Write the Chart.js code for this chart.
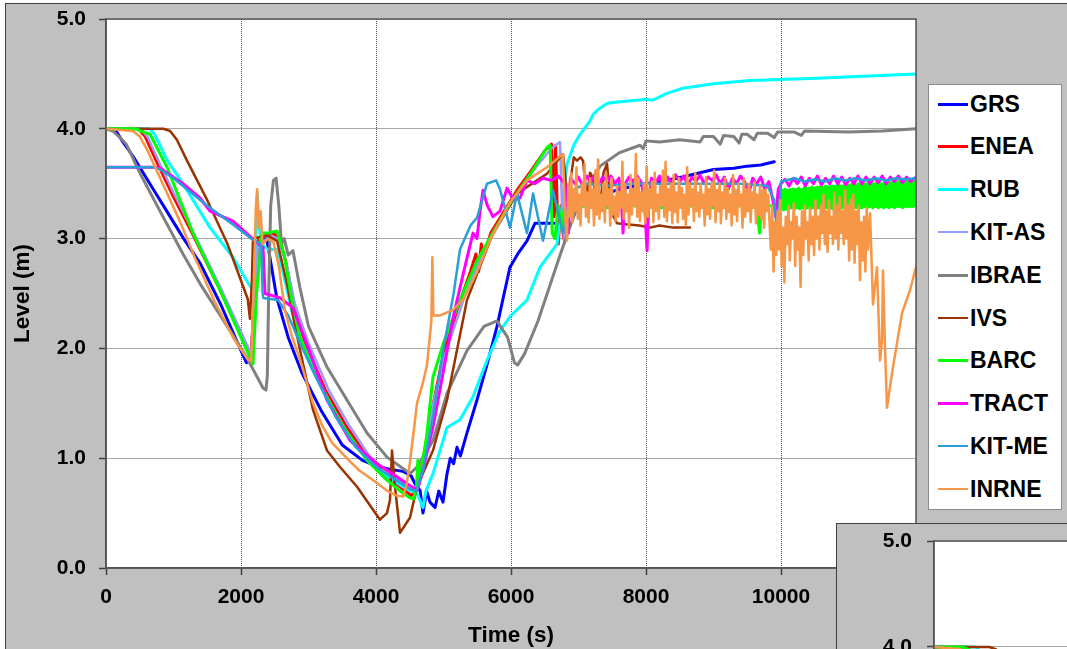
<!DOCTYPE html>
<html>
<head>
<meta charset="utf-8">
<script src="https://cdn.jsdelivr.net/npm/chart.js@4.4.0/dist/chart.umd.min.js"></script>
<style>
  body { margin: 0; width: 1067px; height: 649px; overflow: hidden; position: relative; background: #fff;
         font-family: "Liberation Sans", Arial, sans-serif; }
  #frame { position: absolute; left: 5px; top: 3px; width: 1100px; height: 700px; background: #c0c0c0; border: 1px solid #404040; }
  #main { position: absolute; left: 6px; top: 4px; }
  #legend { position: absolute; left: 928px; top: 84px; width: 132px; height: 424px; background: #fff; border: 1px solid #8c8c8c; }
  #legend .item { position: absolute; left: 9px; height: 26px; display: flex; align-items: center;
                  font-weight: bold; font-size: 23px; color: #000; white-space: nowrap; }
  #legend .swatch { display: inline-block; width: 30px; margin-right: 2px; }
  #insetFrame { position: absolute; left: 836px; top: 523px; width: 300px; height: 200px; background: #c0c0c0; border: 1px solid #404040; }
  #inset { position: absolute; left: 837px; top: 524px; }
</style>
</head>
<body>
<div id="frame"></div>
<canvas id="main" width="1061" height="645"></canvas>
<div id="legend"></div>
<div id="insetFrame"></div>
<canvas id="inset" width="240" height="560"></canvas>
<script>
// Water level (m) against time (s) for each participant's calculation, as [time, level] pairs
const GRS = [[0,4.0],[130,4.0],[250,3.88],[400,3.75],[500,3.65],[700,3.45],[900,3.25],[1150,3.0],[1400,2.77],[1700,2.4],
  [2000,1.98],[2080,1.87],[2150,1.9],[2200,2.5],[2250,2.98],[2380,3.0],[2450,2.75],[2530,2.46],[2700,2.1],[2900,1.78],
  [3200,1.42],[3500,1.12],[3800,0.98],[4000,0.93],[4200,0.9],[4400,0.88],[4520,0.84],[4600,0.74],[4652,0.71],[4696,0.5],
  [4750,0.7],[4800,0.6],[4874,0.55],[4930,0.7],[4993,0.6],[5050,0.85],[5100,1.0],[5150,0.95],[5200,1.1],[5250,1.02],
  [5348,1.23],[5496,1.53],[5644,1.85],[5793,2.2],[5881,2.45],[5985,2.74],[6100,2.86],[6237,2.98],[6356,3.14],[6533,3.14],
  [6726,3.14],[6800,3.2],[7000,3.3],[7300,3.38],[7600,3.45],[8000,3.5],[8460,3.55],[8800,3.6],[9000,3.63],[9300,3.64],
  [9500,3.66],[9700,3.67],[9900,3.7]];

const ENEA = [[0,4.0],[480,4.0],[580,3.93],[750,3.7],[1000,3.38],[1300,3.02],[1700,2.52],[2000,2.12],[2150,1.9],[2200,2.5],
  [2260,3.0],[2450,3.05],[2560,3.02],[2660,2.8],[2800,2.35],[2950,2.05],[3250,1.62],[3550,1.3],[3850,1.03],[4150,0.84],
  [4400,0.72],[4520,0.66],[4600,0.7],[4700,1.0],[4850,1.5],[5000,1.95],[5200,2.35],[5400,2.7],[5480,2.86],[5520,2.7],
  [5560,2.95],[5600,2.85],[5700,3.05],[5900,3.25],[6100,3.45],[6300,3.62],[6500,3.8],[6600,3.86],[6640,3.2],[6660,3.85],
  [6700,2.95],[6740,3.3],[6780,3.0],[6830,3.2]];

const RUB = [[0,4.0],[650,4.0],[720,3.95],[800,3.85],[900,3.72],[1141,3.5],[1541,3.1],[1881,2.83],[2150,2.55],[2200,2.5],
  [2240,3.41],[2270,3.1],[2300,2.95],[2400,2.9],[2530,2.9],[2620,2.7],[2750,2.35],[2874,2.1],[3100,1.78],[3300,1.52],
  [3600,1.2],[3900,0.97],[4200,0.82],[4450,0.72],[4607,0.68],[4696,0.55],[4740,0.7],[4844,0.86],[5052,1.28],[5244,1.35],
  [5437,1.56],[5644,1.89],[5837,2.16],[6000,2.3],[6237,2.44],[6430,2.74],[6681,2.95],[6760,3.3],[6830,3.68],[6930,3.85],
  [7022,3.95],[7170,4.07],[7215,4.13],[7300,4.18],[7422,4.23],[7500,4.24],[7700,4.25],[8015,4.27],[8100,4.26],[8300,4.32],
  [8548,4.37],[9000,4.41],[9541,4.44],[10000,4.45],[10533,4.46],[11300,4.48],[12000,4.5]];

const KIT_AS = [[0,4.0],[520,4.0],[620,3.92],[800,3.68],[1000,3.42],[1300,3.05],[1700,2.55],[2000,2.15],[2150,1.95],[2200,2.3],
  [2250,2.95],[2450,3.02],[2550,3.0],[2680,2.75],[2800,2.4],[3000,2.05],[3300,1.62],[3600,1.3],[3900,1.02],[4200,0.86],
  [4450,0.76],[4600,0.72],[4700,0.95],[4850,1.5],[5000,1.9],[5300,2.45],[5600,2.9],[5985,3.3],[6300,3.6],[6600,3.82],
  [6726,3.88],[6760,3.2],[6790,2.95],[6830,3.1]];

const IBRAE = [[0,4.0],[100,3.98],[207,3.92],[300,3.86],[500,3.6],[800,3.25],[1141,2.86],[1393,2.59],[1900,2.1],[2100,1.9],
  [2326,1.64],[2370,1.62],[2390,1.75],[2410,2.5],[2440,3.3],[2480,3.53],[2520,3.55],[2560,3.3],[2600,2.95],[2640,3.0],
  [2700,2.85],[2770,2.89],[2874,2.55],[3000,2.2],[3274,1.83],[3570,1.53],[3867,1.23],[4163,1.01],[4504,0.86],[4607,0.92],
  [4844,1.16],[5052,1.59],[5348,1.98],[5600,2.2],[5793,2.25],[5950,2.1],[6050,1.87],[6100,1.85],[6200,1.95],[6400,2.25],
  [6700,2.8],[6850,3.07],[7022,3.35],[7319,3.66],[7600,3.78],[7911,3.85],[7960,3.82],[8000,3.89],[8200,3.88],[8500,3.9],
  [8800,3.88],[8850,3.93],[9000,3.93],[9100,3.86],[9150,3.94],[9300,3.93],[9380,3.87],[9420,3.95],[9500,3.95],[9600,3.9],
  [9650,3.96],[9800,3.96],[9900,3.92],[9950,3.97],[10200,3.97],[10300,3.94],[10350,3.98],[11000,3.97],[11500,3.98],[12000,4.0]];

const IVS = [[0,4.0],[850,4.0],[950,3.98],[1050,3.9],[1200,3.71],[1500,3.35],[1800,2.95],[1950,2.7],[2100,2.45],[2133,2.27],
  [2160,2.6],[2178,3.0],[2385,3.03],[2533,2.98],[2681,2.59],[2800,2.2],[3067,1.44],[3274,1.07],[3467,0.92],[3719,0.74],
  [4059,0.44],[4163,0.5],[4207,0.62],[4237,1.07],[4281,0.74],[4356,0.32],[4504,0.46],[4607,0.74],[4844,1.07],[5052,1.53],
  [5348,2.44],[5733,3.05],[6089,3.41],[6533,3.59],[6770,3.77],[6800,3.6],[6830,3.3],[6874,3.5],[6930,3.74],[6978,3.71],
  [7030,3.74],[7067,3.71],[7100,3.5],[7126,3.35],[7170,3.6],[7215,3.55],[7260,3.35],[7319,3.28],[7370,3.6],[7422,3.68],
  [7467,3.35],[7520,3.2],[7570,3.14],[7700,3.13],[7900,3.12],[8059,3.1],[8200,3.12],[8400,3.1],[8652,3.1]];

const BARC = [[0,4.0],[450,4.0],[550,3.97],[652,3.95],[904,3.65],[1289,3.05],[1689,2.53],[2000,2.1],[2178,1.86],[2230,2.5],
  [2311,3.05],[2385,3.05],[2533,3.07],[2640,2.85],[2750,2.45],[2874,2.1],[3050,1.83],[3215,1.62],[3500,1.3],[3867,0.98],
  [4163,0.8],[4400,0.68],[4500,0.64],[4560,0.63],[4600,0.75],[4620,0.98],[4650,0.82],[4750,1.2],[4844,1.74],[5000,2.05],
  [5244,2.44],[5500,2.8],[5700,3.02],[5985,3.32],[6300,3.6],[6533,3.83],[6580,3.85],[6610,3.05],[6650,3.0],[6700,3.3],
  [6750,3.1],[6800,3.32],[6900,3.25],[7100,3.3],[7400,3.28],[7800,3.3],[8200,3.28],[8600,3.3],[9000,3.28],[9400,3.3],
  [9650,3.28],[9680,3.05],[9720,3.3],[9960,3.3],
  [9980,3.44],[10000,3.27],[10020,3.44],[10040,3.26],[10060,3.45],[10080,3.27],[10100,3.44],[10120,3.27],[10140,3.45],[10160,3.28],
  [10180,3.45],[10200,3.27],[10220,3.45],[10240,3.28],[10260,3.46],[10280,3.27],[10300,3.45],[10320,3.28],[10340,3.46],[10360,3.27],
  [10380,3.46],[10400,3.28],[10420,3.46],[10440,3.27],[10460,3.47],[10480,3.28],[10500,3.46],[10520,3.27],[10540,3.47],[10560,3.28],
  [10580,3.47],[10600,3.28],[10620,3.47],[10640,3.27],[10660,3.48],[10680,3.28],[10700,3.47],[10720,3.28],[10740,3.48],[10760,3.27],
  [10780,3.48],[10800,3.28],[10820,3.48],[10840,3.28],[10860,3.49],[10880,3.27],[10900,3.48],[10920,3.28],[10940,3.49],[10960,3.28],
  [10980,3.49],[11000,3.28],[11020,3.49],[11040,3.27],[11060,3.5],[11080,3.28],[11100,3.49],[11120,3.28],[11140,3.5],[11160,3.28],
  [11180,3.5],[11200,3.28],[11220,3.5],[11240,3.29],[11260,3.5],[11280,3.28],[11300,3.5],[11320,3.29],[11340,3.51],[11360,3.28],
  [11380,3.5],[11400,3.29],[11420,3.51],[11440,3.28],[11460,3.51],[11480,3.29],[11500,3.5],[11520,3.28],[11540,3.51],[11560,3.29],
  [11580,3.51],[11600,3.28],[11620,3.51],[11640,3.29],[11660,3.52],[11680,3.28],[11700,3.51],[11720,3.29],[11740,3.52],[11760,3.29],
  [11780,3.51],[11800,3.28],[11820,3.52],[11840,3.29],[11860,3.52],[11880,3.29],[11900,3.51],[11920,3.29],[11940,3.52],[11960,3.29],
  [11980,3.52],[12000,3.3]];

const TRACT = [[0,3.65],[700,3.65],[800,3.64],[1000,3.56],[1141,3.5],[1393,3.37],[1541,3.25],[1881,3.16],[2207,2.98],[2326,2.92],
  [2356,2.5],[2578,2.46],[2770,2.37],[2874,2.2],[3000,2.0],[3274,1.53],[3615,1.16],[4015,0.95],[4311,0.83],[4548,0.73],
  [4620,0.72],[4700,0.9],[4850,1.3],[5000,1.8],[5150,2.3],[5300,2.7],[5437,3.05],[5496,3.0],[5541,3.25],[5585,3.44],
  [5650,3.3],[5733,3.2],[5837,3.25],[5941,3.46],[6040,3.35],[6133,3.37],[6237,3.53],[6350,3.5],[6474,3.55],[6600,3.53],
  [6700,3.57],[6800,3.5],[6850,3.05],[6880,3.55],[6950,3.5],[7000,3.56],[7060,3.48],[7120,3.57],[7180,3.52],[7240,3.58],
  [7300,3.5],[7360,3.56],[7420,3.52],[7480,3.57],[7540,3.5],[7600,3.55],[7640,3.3],[7660,3.05],[7690,3.5],[7750,3.56],
  [7810,3.52],[7870,3.57],[7940,3.5],[7990,3.2],[8015,2.89],[8040,3.3],[8080,3.55],[8140,3.5],[8200,3.57],[8260,3.45],
  [8320,3.56],[8380,3.5],[8440,3.58],[8500,3.52],[8560,3.57],[8620,3.48],[8680,3.56],[8740,3.52],[8800,3.58],[8860,3.5],
  [8920,3.56],[8980,3.53],[9040,3.58],[9100,3.5],[9160,3.56],[9220,3.45],[9280,3.55],[9340,3.5],[9400,3.57],[9460,3.52],
  [9520,3.4],[9580,3.55],[9640,3.5],[9700,3.56],[9760,3.45],[9820,3.52],[9880,3.35],[9920,3.2],[9960,3.45],[10000,3.5],
  [10060,3.54],[10120,3.48],[10180,3.55],[10240,3.5],[10300,3.56],[10360,3.48],[10420,3.55],[10480,3.5],[10540,3.57],[10600,3.49],
  [10660,3.55],[10720,3.5],[10780,3.57],[10840,3.5],[10900,3.56],[10960,3.49],[11020,3.55],[11080,3.5],[11140,3.57],[11200,3.5],
  [11260,3.56],[11320,3.5],[11380,3.56],[11440,3.51],[11500,3.57],[11560,3.5],[11620,3.56],[11680,3.52],[11740,3.57],[11800,3.51],
  [11860,3.56],[11920,3.52],[12000,3.56]];

const KIT_ME = [[0,3.65],[700,3.65],[800,3.63],[1000,3.55],[1200,3.45],[1500,3.3],[1900,3.12],[2150,3.0],[2300,2.95],[2320,2.5],
  [2330,2.46],[2550,2.44],[2700,2.3],[2874,2.05],[3100,1.75],[3400,1.38],[3700,1.1],[4000,0.92],[4300,0.8],[4500,0.72],
  [4600,0.7],[4700,0.9],[4850,1.4],[5000,2.0],[5150,2.5],[5244,2.9],[5400,3.12],[5496,3.19],[5644,3.5],[5780,3.53],
  [5837,3.45],[5985,3.1],[6089,3.41],[6237,3.05],[6326,3.41],[6474,2.98],[6622,3.44],[6770,3.05],[6850,3.3],[6950,3.45],
  [7100,3.5],[7400,3.48],[7800,3.5],[8200,3.5],[8600,3.5],[9000,3.5],[9400,3.5],[9800,3.48],[9900,3.35],[9950,3.0],
  [10000,3.52],[10200,3.55],[10350,3.52],[10500,3.54],[10650,3.52],[10800,3.55],[10950,3.53],[11100,3.55],[11250,3.53],[11400,3.55],
  [11550,3.53],[11700,3.55],[11850,3.54],[12000,3.55]];

const INRNE = [[0,4.0],[400,3.98],[500,3.93],[600,3.82],[750,3.62],[900,3.42],[1100,3.15],[1300,2.85],[1600,2.44],[1900,2.08],
  [2100,1.9],[2150,1.88],[2190,2.6],[2220,3.28],[2240,3.45],[2260,3.1],[2290,3.25],[2320,2.95],[2400,3.0],[2480,2.97],
  [2560,2.75],[2650,2.35],[2750,2.12],[2874,1.9],[3067,1.5],[3200,1.3],[3350,1.14],[3600,0.98],[3750,0.89],[4000,0.78],
  [4150,0.71],[4300,0.66],[4400,0.65],[4450,0.75],[4500,0.95],[4560,1.25],[4607,1.5],[4700,1.7],[4756,1.85],[4820,2.25],
  [4835,2.83],[4850,2.3],[4950,2.3],[5141,2.35],[5300,2.45],[5500,2.7],[5700,3.0],[5985,3.33],[6237,3.53],[6533,3.65],
  [6770,3.77],[6800,3.2],
  [6830,2.98],[6850,3.5],[6870,3.2],[6890,3.6],[6910,3.15],[6930,3.45],[6950,3.25],[6970,3.65],[6990,3.18],[7010,3.4],
  [7030,3.12],[7050,3.5],[7070,3.3],[7090,3.68],[7110,3.2],[7130,3.42],[7150,3.15],[7170,3.55],[7190,3.28],[7210,3.45],
  [7230,3.12],[7250,3.62],[7270,3.22],[7290,3.72],[7310,3.18],[7330,3.4],[7350,3.25],[7370,3.5],[7390,3.15],[7410,3.6],
  [7430,3.3],[7450,3.45],[7470,3.12],[7490,3.55],[7510,3.22],[7530,3.38],[7550,3.16],[7570,3.48],[7590,3.2],[7610,3.42],
  [7630,3.28],[7650,3.7],[7670,3.18],[7690,3.5],[7710,3.25],[7730,3.4],[7750,3.1],[7770,3.58],[7790,3.22],[7810,3.45],
  [7830,3.3],[7850,3.77],[7870,3.2],[7890,3.55],[7910,3.16],[7930,3.42],[7950,3.25],[7970,3.5],[7990,3.14],[8010,3.66],
  [8030,3.2],[8050,3.45],[8070,3.28],[8090,3.52],[8110,3.15],[8130,3.6],[8150,3.25],[8170,3.4],[8190,3.18],[8210,3.48],
  [8230,3.3],[8250,3.62],[8270,3.2],[8290,3.7],[8310,3.16],[8330,3.45],[8350,3.26],[8370,3.5],[8390,3.14],[8410,3.58],
  [8430,3.24],[8450,3.42],[8470,3.15],[8490,3.55],[8510,3.28],[8530,3.46],[8550,3.18],[8570,3.4],[8590,3.12],[8610,3.65],
  [8630,3.22],[8650,3.5],[8670,3.3],[8690,3.45],[8710,3.16],[8730,3.6],[8750,3.25],[8770,3.42],[8790,3.2],[8810,3.5],
  [8830,3.28],[8850,3.4],[8870,3.12],[8890,3.56],[8910,3.22],[8930,3.45],[8950,3.18],[8970,3.5],[8990,3.3],[9010,3.62],
  [9030,3.15],[9050,3.44],[9070,3.25],[9090,3.5],[9110,3.14],[9130,3.42],[9150,3.28],[9170,3.55],[9190,3.18],[9210,3.46],
  [9230,3.24],[9250,3.4],[9270,3.12],[9290,3.58],[9310,3.22],[9330,3.44],[9350,3.16],[9370,3.5],[9390,3.3],[9410,3.4],
  [9430,3.1],[9450,3.55],[9470,3.2],[9490,3.45],[9510,3.25],[9530,3.5],[9550,3.15],[9570,3.42],[9590,3.28],[9610,3.52],
  [9630,3.14],[9650,3.4],[9670,3.22],[9690,3.48],[9710,3.18],[9730,3.44],[9750,3.1],[9770,3.45],[9790,3.25],[9810,3.4],
  [9830,3.15],[9850,2.9],
  [9870,3.3],[9890,2.7],[9910,3.15],[9930,2.85],[9950,3.25],[9970,2.9],[9990,3.35],[10010,2.75],[10030,3.1],[10050,2.6],
  [10070,3.2],[10090,2.95],[10110,3.3],[10130,2.8],[10150,3.15],[10170,3.0],[10190,3.32],[10210,2.75],[10230,3.2],[10250,2.9],
  [10270,3.1],[10290,2.56],[10310,3.25],[10330,2.85],[10350,3.3],[10370,3.0],[10390,3.15],[10410,2.8],[10430,3.28],[10450,2.95],
  [10470,3.2],[10490,2.85],[10510,3.35],[10530,3.0],[10550,3.2],[10570,2.9],[10590,3.3],[10610,3.05],[10630,3.4],[10650,2.95],
  [10670,3.25],[10690,2.88],[10710,3.35],[10730,3.05],[10750,3.2],[10770,2.95],[10790,3.42],[10810,3.0],[10830,3.3],[10850,2.9],
  [10870,3.38],[10890,3.05],[10910,3.25],[10930,2.95],[10950,3.44],[10970,3.0],[10990,3.3],[11010,2.8],[11030,3.35],[11050,2.9],
  [11070,3.4],[11090,2.78],[11110,3.25],[11130,2.95],[11150,3.3],[11170,2.62],[11190,3.15],[11210,2.8],[11230,3.2],[11250,2.7],
  [11270,3.28],[11290,2.9],[11319,3.23],[11363,2.4],[11422,2.74],[11467,1.89],[11496,2.07],[11511,2.71],[11541,2.0],[11570,1.46],
  [11615,1.65],[11659,1.83],[11793,2.32],[11911,2.53],[12000,2.74]];

const seriesNames = ['GRS', 'ENEA', 'RUB', 'KIT-AS', 'IBRAE', 'IVS', 'BARC', 'TRACT', 'KIT-ME', 'INRNE'];
const seriesData = [GRS, ENEA, RUB, KIT_AS, IBRAE, IVS, BARC, TRACT, KIT_ME, INRNE];
const seriesColors = ['#0000ff', '#ff0000', '#00ffff', '#9999ff', '#808080', '#993300', '#00ff00', '#ff00ff', '#2a9fd6', '#f79646'];
const seriesWidths = [3, 3, 3, 2.5, 3, 2.5, 3, 3, 2.5, 2.5];

const xTicks = [0, 2000, 4000, 6000, 8000, 10000, 12000];
const yTicks = [0, 1, 2, 3, 4, 5];

const FONT = '"Liberation Sans", Arial, sans-serif';

// white plot area with a thin frame round it
const plotFrame = {
  id: 'plotFrame',
  beforeDraw(chart) {
    const { ctx, chartArea: a } = chart;
    ctx.save();
    ctx.fillStyle = '#ffffff';
    ctx.fillRect(a.left, a.top, a.right - a.left, a.bottom - a.top);
    ctx.restore();
  },
  afterDraw(chart) {
    const { ctx, chartArea: a } = chart;
    ctx.save();
    ctx.strokeStyle = '#5a5a5a';
    ctx.lineWidth = 1.5;
    ctx.strokeRect(a.left, a.top, a.right - a.left, a.bottom - a.top);
    ctx.restore();
  }
};

function makeDatasets() {
  return seriesData.map((pts, i) => ({
    label: seriesNames[i],
    data: pts.map(p => ({ x: p[0], y: p[1] })),
    borderColor: seriesColors[i],
    borderWidth: seriesWidths[i],
    pointRadius: 0,
    tension: 0,
    fill: false,
    borderJoinStyle: 'round',
    borderCapStyle: 'round',
    // later series sit on top
    order: seriesNames.length - i
  }));
}

// fixed axis box sizes so the plot area lands where it should
function fixWidth(w) {
  return s => { s.width = w; s.paddingTop = 0; s.paddingBottom = 0; };
}
function fixHeight(h) {
  return s => { s.height = h; s.paddingLeft = 0; s.paddingRight = 0; };
}

const gridOpts = { color: '#505050', lineWidth: 1, tickLength: 7, tickColor: '#404040', tickWidth: 1.5 };
const borderOpts = { display: true, color: '#404040', width: 1.5, dash: [1, 1] };
const tickFont = { family: FONT, size: 21, weight: 'bold' };
const titleFont = { family: FONT, size: 22.5, weight: 'bold' };

new Chart(document.getElementById('main'), {
  type: 'line',
  data: { datasets: makeDatasets() },
  plugins: [plotFrame],
  options: {
    responsive: false,
    animation: false,
    devicePixelRatio: 1,
    events: [],
    layout: { padding: { left: 0, top: 15, right: 151, bottom: 0 } },
    plugins: { legend: { display: false }, tooltip: { enabled: false } },
    scales: {
      x: {
        type: 'linear', min: 0, max: 12000,
        afterBuildTicks: s => { s.ticks = xTicks.map(v => ({ value: v })); },
        afterFit: fixHeight(81),
        grid: gridOpts,
        border: borderOpts,
        ticks: { color: '#000', padding: 10, maxRotation: 0, autoSkip: false, font: tickFont,
                 callback: v => String(v) },
        title: { display: true, text: 'Time (s)', color: '#000', padding: { top: 0, bottom: 0 }, font: titleFont }
      },
      y: {
        type: 'linear', min: 0, max: 5,
        afterBuildTicks: s => { s.ticks = yTicks.map(v => ({ value: v })); },
        afterFit: fixWidth(100),
        grid: gridOpts,
        border: borderOpts,
        ticks: { color: '#000', padding: 13, font: tickFont, callback: v => Number(v).toFixed(1) },
        title: { display: true, text: 'Level (m)', color: '#000', padding: { top: 3, bottom: 0 }, font: titleFont }
      }
    }
  }
});

// second copy of the plot, mostly hidden below the page edge
new Chart(document.getElementById('inset'), {
  type: 'line',
  data: { datasets: makeDatasets() },
  plugins: [plotFrame],
  options: {
    responsive: false,
    animation: false,
    devicePixelRatio: 1,
    events: [],
    layout: { padding: { left: 0, top: 17, right: 0, bottom: 13 } },
    plugins: { legend: { display: false }, tooltip: { enabled: false } },
    scales: {
      x: { type: 'linear', min: 0, max: 2200, display: false },
      y: {
        type: 'linear', min: 0, max: 5,
        afterBuildTicks: s => { s.ticks = yTicks.map(v => ({ value: v })); },
        afterFit: fixWidth(97),
        grid: gridOpts,
        border: borderOpts,
        ticks: { color: '#000', padding: 15, font: tickFont, callback: v => Number(v).toFixed(1) }
      }
    }
  }
});

// legend box
const legend = document.getElementById('legend');
seriesNames.forEach((name, i) => {
  const row = document.createElement('div');
  row.className = 'item';
  row.style.top = (6 + i * 42.8) + 'px';
  const sw = document.createElement('span');
  sw.className = 'swatch';
  sw.style.borderTop = (seriesWidths[i] >= 3 ? 3 : 2) + 'px solid ' + seriesColors[i];
  row.appendChild(sw);
  row.appendChild(document.createTextNode(name));
  legend.appendChild(row);
});
</script>
</body>
</html>
